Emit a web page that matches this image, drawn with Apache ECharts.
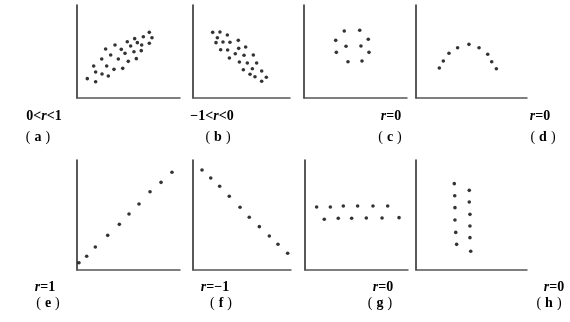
<!DOCTYPE html>
<html><head><meta charset="utf-8">
<script src="https://cdn.jsdelivr.net/npm/echarts@6/dist/echarts.min.js"></script>
<style>html,body{margin:0;padding:0;background:#fff}#c{width:570px;height:322px}</style>
</head><body><div id="c"></div>
<script>
// Panel data, each axis 0..100 in arbitrary units
var panelA = [[70.2,70.6],[64.4,65.9],[72.8,64.8],[56.0,63.8],[48.8,60.5],[58.6,59.5],[52.1,55.9],[62.8,57.0],[70.2,58.8],[36.9,57.0],[27.8,52.7],[43.0,52.3],[46.6,48.0],[55.3,49.8],[62.4,50.9],[32.7,46.2],[40.1,41.9],[24.0,41.9],[49.8,39.4],[57.6,42.3],[16.2,34.4],[28.8,34.4],[35.9,30.8],[44.4,31.9],[18.1,28.0],[24.3,25.8],[30.4,23.7],[10.0,20.8],[18.1,17.5]];
var panelB = [[20.3,70.6],[27.8,71.0],[35.4,67.7],[25.1,64.8],[23.7,59.5],[30.9,60.2],[38.1,59.9],[46.7,62.0],[28.5,51.9],[35.7,51.6],[47.1,53.4],[54.3,54.8],[43.6,47.6],[37.5,43.0],[52.6,45.9],[62.2,46.2],[47.8,38.7],[56.0,37.6],[65.6,37.6],[51.9,30.4],[61.2,31.5],[70.8,29.0],[58.8,25.5],[63.9,22.9],[75.6,22.3],[70.8,18.0]];
var panelC = [[39.1,72.0],[54.1,72.8],[30.8,62.0],[62.4,63.1],[40.8,55.6],[55.3,55.9],[31.4,49.1],[63.1,49.1],[42.7,39.0],[56.3,39.8]];
var panelD = [[21.0,32.3],[24.6,39.8],[29.7,48.1],[37.5,54.1],[47.7,57.7],[56.8,54.1],[64.6,47.0],[68.2,39.0],[72.4,31.5]];
var panelE = [[1.9,6.6],[9.4,12.5],[17.8,20.9],[29.8,31.5],[41.1,41.5],[50.5,50.9],[60.2,60.0],[70.9,71.2],[81.6,79.7],[92.2,88.8]];
var panelF = [[9.2,90.9],[18.1,83.6],[27.2,76.1],[37.0,67.0],[48.0,57.0],[57.4,47.9],[67.7,39.4],[77.9,30.9],[86.7,23.4],[96.6,15.2]];
var panelG = [[11.3,57.3],[24.6,57.3],[37.2,58.2],[51.1,58.2],[66.0,58.2],[80.3,58.2],[18.7,46.1],[32.3,47.0],[45.3,47.0],[59.5,47.3],[74.8,47.3],[91.3,47.6]];
var panelH = [[34.5,78.5],[34.9,67.5],[35.1,56.7],[35.1,45.5],[35.8,34.2],[36.6,23.3],[48.0,72.4],[48.0,61.8],[48.6,50.6],[48.6,40.0],[48.6,29.4],[49.3,17.0]];
var rLabels = ['0<{i|r}<1','−1<{i|r}<0','{i|r}=0','{i|r}=0','{i|r}=1','{i|r}=−1','{i|r}=0','{i|r}=0'];
var letters = ['a','b','c','d','e','f','g','h'];

var panels = [panelA,panelB,panelC,panelD,panelE,panelF,panelG,panelH];
var grids = [
  {left:77,top:5,width:103,height:93},
  {left:193,top:5,width:97,height:93},
  {left:304,top:5,width:103,height:93},
  {left:416,top:5,width:111,height:93},
  {left:77,top:160,width:103,height:110},
  {left:193,top:160,width:98,height:110},
  {left:305,top:160,width:103,height:110},
  {left:416,top:160,width:111,height:110}
];
var rPos = [[44,116],[212,116],[391,116],[540,116],[45,287],[215,287],[383,287],[554,287]];
var lPos = [[38,137],[218,137],[390,137],[543,137],[48,303],[221,303],[380,303],[549,303]];

var xAxes=[], yAxes=[], series=[], graphic=[];
for (var i=0;i<8;i++){
  xAxes.push({gridIndex:i,type:'value',min:0,max:100,axisLine:{show:true,onZero:false,lineStyle:{color:'#555',width:1.5}},axisTick:{show:false},axisLabel:{show:false},splitLine:{show:false}});
  yAxes.push({gridIndex:i,type:'value',min:0,max:100,axisLine:{show:true,onZero:false,lineStyle:{color:'#222',width:1.5}},axisTick:{show:false},axisLabel:{show:false},splitLine:{show:false}});
  series.push({type:'scatter',xAxisIndex:i,yAxisIndex:i,data:panels[i],symbolSize:3.6,itemStyle:{color:'#000'},silent:true});
  graphic.push({type:'text',x:rPos[i][0],y:rPos[i][1],style:{text:rLabels[i],align:'center',verticalAlign:'middle',font:'bold 14px "Liberation Serif"',fill:'#000',rich:{i:{fontStyle:'italic',fontWeight:'bold',fontFamily:'Liberation Serif',fontSize:14}}}});
  graphic.push({type:'text',x:lPos[i][0],y:lPos[i][1],style:{text:'{p|(}{l|'+letters[i]+'}{p|)}',align:'center',verticalAlign:'middle',font:'14px "Liberation Serif"',fill:'#000',rich:{p:{fontFamily:'Liberation Serif',fontSize:14,padding:[0,4,0,4]},l:{fontFamily:'Liberation Serif',fontWeight:'bold',fontSize:14}}}});
}
var chart = echarts.init(document.getElementById('c'),null,{renderer:'canvas'});
chart.setOption({animation:false,backgroundColor:'#fff',grid:grids,xAxis:xAxes,yAxis:yAxes,series:series,graphic:graphic});
</script></body></html>
